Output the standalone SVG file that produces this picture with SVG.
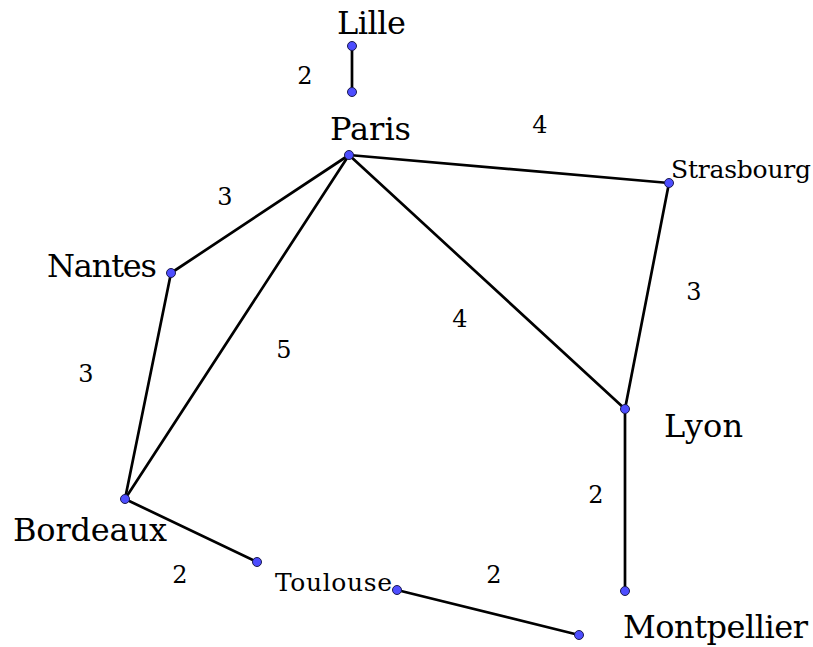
<svg xmlns="http://www.w3.org/2000/svg" width="813" height="647" viewBox="0 0 813 647">
<style>
.e{stroke:#000;stroke-width:2.7;fill:none;stroke-linecap:round}
.d{fill:#4d4dff;stroke:#1a1a4d;stroke-width:1}
.n{font-family:'DejaVu Serif','Liberation Serif',serif;fill:#000}
.big{font-size:32px}
.sm{font-size:25px}
.w{font-family:'DejaVu Serif','Liberation Serif',serif;font-size:24px;text-anchor:middle;fill:#000}
</style>
<rect width="813" height="647" fill="#fff"/>
<g id="connectors">
<line class="e" x1="352" y1="46" x2="352" y2="92"/>
<line class="e" x1="349" y1="155" x2="669" y2="183"/>
<line class="e" x1="349" y1="155" x2="171" y2="273"/>
<line class="e" x1="349" y1="155" x2="125" y2="499"/>
<line class="e" x1="349" y1="155" x2="625" y2="409"/>
<line class="e" x1="669" y1="183" x2="625" y2="409"/>
<line class="e" x1="171" y1="273" x2="125" y2="499"/>
<line class="e" x1="625" y1="409" x2="625" y2="591"/>
<line class="e" x1="125" y1="499" x2="257" y2="562"/>
<line class="e" x1="397" y1="590" x2="579" y2="635"/>
</g>
<g id="weights">
<text class="w" x="305" y="84">2</text>
<text class="w" x="540" y="133">4</text>
<text class="w" x="225" y="205">3</text>
<text class="w" x="694" y="300">3</text>
<text class="w" x="460" y="327">4</text>
<text class="w" x="284" y="358">5</text>
<text class="w" x="86" y="382">3</text>
<text class="w" x="596" y="503">2</text>
<text class="w" x="180" y="583">2</text>
<text class="w" x="494" y="583">2</text>
</g>
<g id="Lille"><circle class="d" cx="352" cy="46" r="4.5"/><circle class="d" cx="352" cy="92" r="4.5"/><text class="n big" x="337" y="34" textLength="69">Lille</text></g>
<g id="Paris"><circle class="d" cx="349" cy="155" r="4.5"/><text class="n big" x="330" y="140" textLength="81">Paris</text></g>
<g id="Strasbourg"><circle class="d" cx="669" cy="183" r="4.5"/><text class="n sm" x="671" y="178" textLength="140">Strasbourg</text></g>
<g id="Nantes"><circle class="d" cx="171" cy="273" r="4.5"/><text class="n big" x="47" y="277" textLength="110">Nantes</text></g>
<g id="Lyon"><circle class="d" cx="625" cy="409" r="4.5"/><circle class="d" cx="625" cy="591" r="4.5"/><text class="n big" x="664" y="437" textLength="79">Lyon</text></g>
<g id="Bordeaux"><circle class="d" cx="125" cy="499" r="4.5"/><circle class="d" cx="257" cy="562" r="4.5"/><text class="n big" x="13" y="541" textLength="154">Bordeaux</text></g>
<g id="Toulouse"><circle class="d" cx="397" cy="590" r="4.5"/><text class="n sm" x="275" y="591" textLength="117">Toulouse</text></g>
<g id="Montpellier"><circle class="d" cx="579" cy="635" r="4.5"/><text class="n big" x="623" y="638" textLength="185">Montpellier</text></g>
</svg>
